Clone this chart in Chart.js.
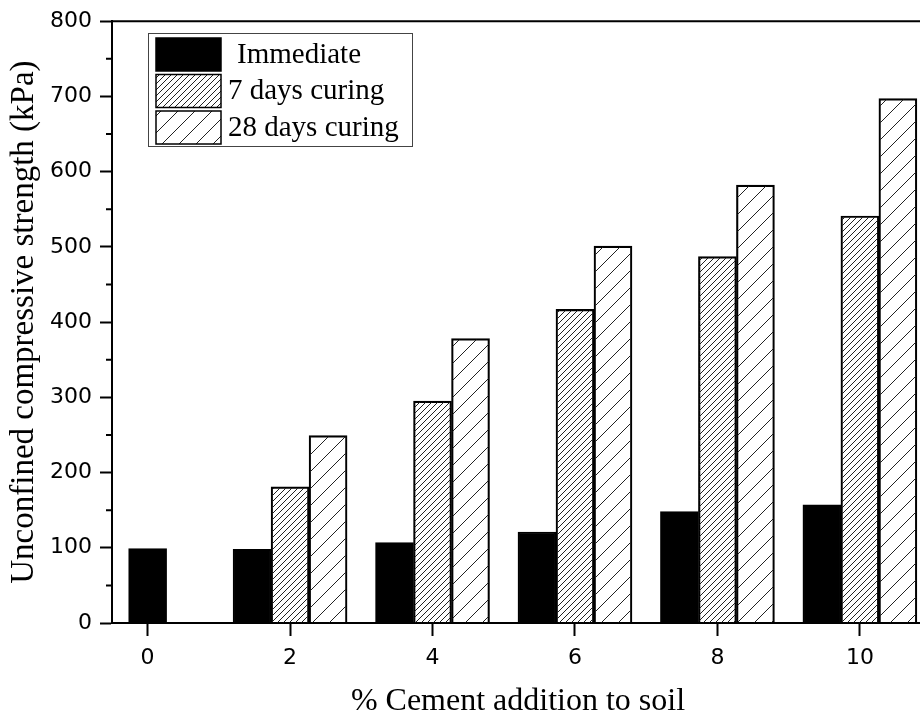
<!DOCTYPE html>
<html lang="en">
<head>
    <meta charset="UTF-8">
    <title>Unconfined compressive strength vs cement addition</title>
    <style>
        html, body {
            margin: 0;
            padding: 0;
            background-color: #ffffff;
            overflow: hidden;
        }
        .chart-box {
            position: relative;
            width: 924px;
            height: 718px;
        }
    </style>
</head>
<body>
    <div class="chart-box">
        <canvas id="ucsChart"></canvas>
    </div>

    <script src="https://cdn.jsdelivr.net/npm/chart.js"></script>
    <script>
        // Values (kPa)
        const cementPct = [0, 2, 4, 6, 8, 10];
        const immediate = [99, 98, 107, 121, 148, 157];
        const cured7 = [null, 181, 295, 417, 487, 541];
        const cured28 = [null, 249, 378, 501, 582, 697];
        const seriesNames = ['Immediate', '7 days curing', '28 days curing'];
        const yTicks = [0, 100, 200, 300, 400, 500, 600, 700, 800];
        const yMinorTicks = [50, 150, 250, 350, 450, 550, 650, 750];

        // Diagonal hatch fill ( / ) with given spacing
        function hatch(spacing) {
            const c = document.createElement('canvas');
            c.width = spacing;
            c.height = spacing;
            const g = c.getContext('2d');
            g.strokeStyle = '#222';
            g.lineWidth = 1;
            g.beginPath();
            g.moveTo(0, spacing); g.lineTo(spacing, 0);
            g.moveTo(-1, 1); g.lineTo(1, -1);
            g.moveTo(spacing - 1, spacing + 1); g.lineTo(spacing + 1, spacing - 1);
            g.stroke();
            return g.createPattern(c, 'repeat');
        }

        function toPoints(values) {
            return cementPct.map((x, i) => ({ x: x, y: values[i] }));
        }

        // Top / right frame lines and minor y ticks
        const framePlugin = {
            id: 'frame',
            afterDraw(chart) {
                const { ctx, chartArea } = chart;
                const y = chart.scales.y;
                ctx.save();
                ctx.strokeStyle = '#000';
                ctx.lineWidth = 2;
                ctx.beginPath();
                ctx.moveTo(chartArea.left, chartArea.top);
                ctx.lineTo(chartArea.right, chartArea.top);
                ctx.lineTo(chartArea.right, chartArea.bottom);
                yMinorTicks.forEach(v => {
                    const py = y.getPixelForValue(v);
                    ctx.moveTo(chartArea.left - 6, py);
                    ctx.lineTo(chartArea.left, py);
                });
                ctx.stroke();
                ctx.restore();
            }
        };

        // Boxed legend in the upper left of the plot
        const boxLegend = {
            id: 'boxLegend',
            afterDraw(chart) {
                const { ctx } = chart;
                ctx.save();
                ctx.strokeStyle = '#444';
                ctx.lineWidth = 1;
                ctx.strokeRect(148.5, 33.5, 264, 113);
                chart.data.datasets.forEach((ds, i) => {
                    const top = 38 + i * 36.5;
                    ctx.fillStyle = ds.backgroundColor;
                    ctx.fillRect(156, top, 65, 33);
                    ctx.strokeStyle = '#000';
                    ctx.lineWidth = 1.5;
                    ctx.strokeRect(156, top, 65, 33);
                    ctx.fillStyle = '#000';
                    ctx.font = '29px "Liberation Serif"';
                    ctx.textBaseline = 'middle';
                    ctx.fillText(ds.label, i === 0 ? 237 : 228, top + 17);
                });
                ctx.restore();
            }
        };

        const barStyle = {
            borderColor: '#000',
            borderWidth: 1.5,
            barThickness: 38,
            skipNull: true
        };

        new Chart(document.getElementById('ucsChart'), {
            type: 'bar',
            data: {
                datasets: [
                    Object.assign({ label: seriesNames[0], data: toPoints(immediate), backgroundColor: '#000' }, barStyle),
                    Object.assign({ label: seriesNames[1], data: toPoints(cured7), backgroundColor: hatch(6) }, barStyle),
                    Object.assign({ label: seriesNames[2], data: toPoints(cured28), backgroundColor: hatch(17) }, barStyle)
                ]
            },
            options: {
                responsive: true,
                maintainAspectRatio: false,
                animation: false,
                layout: { padding: { left: 0, top: 18, right: 0, bottom: 0 } },
                plugins: {
                    legend: { display: false },
                    tooltip: { enabled: false }
                },
                scales: {
                    x: {
                        type: 'linear',
                        min: -0.5,
                        max: 10.9,
                        offset: false,
                        afterBuildTicks: s => { s.ticks = cementPct.map(v => ({ value: v })); },
                        afterFit: s => { s.height = 95; },
                        grid: { offset: false, drawOnChartArea: false, drawTicks: true, tickLength: 13, tickColor: '#000', tickWidth: 2 },
                        border: { display: true, color: '#000', width: 2 },
                        ticks: { color: '#000', font: { family: 'DejaVu Sans', size: 22 }, padding: 9 },
                        title: {
                            display: true,
                            text: '% Cement addition to soil',
                            color: '#000',
                            font: { family: 'Liberation Serif', size: 32, lineHeight: 1 },
                            padding: { top: 0, bottom: 0 }
                        }
                    },
                    y: {
                        min: 0,
                        max: 800,
                        afterBuildTicks: s => { s.ticks = yTicks.map(v => ({ value: v })); },
                        afterFit: s => { s.width = 112; },
                        grid: { drawOnChartArea: false, drawTicks: true, tickLength: 12, tickColor: '#000', tickWidth: 2 },
                        border: { display: true, color: '#000', width: 2 },
                        ticks: { color: '#000', font: { family: 'DejaVu Sans', size: 22 }, padding: 8 },
                        title: {
                            display: true,
                            text: 'Unconfined compressive strength (kPa)',
                            color: '#000',
                            font: { family: 'Liberation Serif', size: 33 },
                            padding: { top: 5, bottom: 0 }
                        }
                    }
                }
            },
            plugins: [framePlugin, boxLegend]
        });
    </script>
</body>
</html>
